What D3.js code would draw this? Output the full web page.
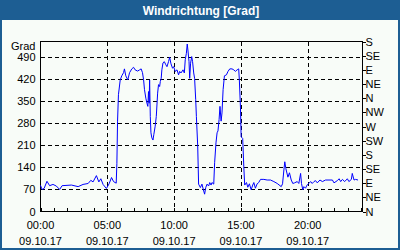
<!DOCTYPE html>
<html>
<head>
<meta charset="utf-8">
<style>
  body { margin: 0; background: #fff; }
  text { font-family: "Liberation Sans", Arial, sans-serif; font-size: 11px; fill: #000; }
  .title { font-weight: bold; font-size: 12px; fill: #fff; }
  .grid line { stroke: #000; stroke-dasharray: 4,3; shape-rendering: crispEdges; }
  .axis path, .axis line { stroke: #000; shape-rendering: crispEdges; }
</style>
</head>
<body>
<svg width="400" height="250"></svg>
<script src="https://cdn.jsdelivr.net/npm/d3@7"></script>
<script>
// wind direction, 09.10.17 (values in degrees, continuous so they can pass 360)
var times = ["00:00","00:07","00:16","00:29","00:41","00:56","01:11","01:26","01:37","02:19",
  "02:49","03:11","03:34","03:46","03:56","04:11","04:22","04:31","04:41","04:56",
  "05:08","05:19","05:28","05:40","05:43","05:46","05:50","05:58","06:05","06:13",
  "06:17","06:23","06:32","06:40","06:50","06:58","07:05","07:16","07:25","07:32",
  "07:38","07:43","07:47","07:53","07:58","08:02","08:05","08:08","08:10","08:13",
  "08:16","08:20","08:25","08:29","08:35","08:40","08:46","08:50","08:55","08:58",
  "09:02","09:05","09:10","09:16","09:23","09:28","09:35","09:40","09:46","09:53",
  "09:58","10:05","10:13","10:20","10:25","10:31","10:40","10:46","10:50","10:55",
  "10:59","11:02","11:07","11:10","11:14","11:19","11:23","11:28","11:32","11:37",
  "11:40","11:46","11:50","11:58","12:05","12:13","12:17","12:22","12:28","12:35",
  "12:40","12:46","12:50","12:58","13:02","13:08","13:13","13:17","13:22","13:26",
  "13:31","13:35","13:40","13:46","13:55","14:02","14:10","14:20","14:28","14:35",
  "14:43","14:50","14:53","14:58","15:01","15:08","15:13","15:17","15:25","15:31",
  "15:38","15:46","15:53","15:58","16:05","16:13","16:20","16:28","16:43","16:58",
  "17:13","17:28","17:43","18:01","18:07","18:13","18:17","18:22","18:31","18:38",
  "18:46","18:53","19:01","19:13","19:20","19:28","19:32","19:38","19:43","19:50",
  "19:58","20:05","20:13","20:20","20:28","20:35","20:43","20:55","21:06","21:20",
  "21:51","21:58","22:13","22:21","22:28","22:36","22:46","22:58","23:05","23:16",
  "23:20","23:28","23:35","23:46"];
var grad = [83,70,73,96,82,86,81,70,82,84,
  79,86,89,99,94,114,94,104,86,73,
  88,108,95,90,153,287,371,418,431,441,
  453,431,418,441,453,458,450,446,450,453,
  441,418,387,360,344,334,381,344,418,302,
  250,234,227,245,271,302,376,403,397,413,
  423,450,472,476,466,460,476,490,469,455,
  460,445,450,434,445,440,450,440,482,502,
  532,513,476,423,471,492,476,440,423,355,
  302,208,87,76,87,65,55,76,87,81,
  92,84,92,87,155,218,250,256,292,334,
  287,313,387,431,434,445,453,453,450,445,
  450,453,418,329,237,232,142,84,92,77,
  88,69,84,92,74,88,92,102,102,100,
  100,95,89,79,88,132,158,136,109,123,
  100,89,91,95,89,121,89,69,79,74,
  85,89,95,89,95,98,91,100,95,100,
  100,91,98,104,95,102,95,104,95,102,
  121,100,102,100];
var day = "2017-10-09";
var yTicks = [0, 70, 140, 210, 280, 350, 420, 490];
var compass = ["N","NE","E","SE","S","SW","W","NW","N","NE","E","SE","S"];
var xLabelHours = [0, 5, 10, 15, 20];

var parse = d3.timeParse("%Y-%m-%d %H:%M");
var data = times.map(function(t, i) { return { t: parse(day + " " + t), v: grad[i] }; });
var t0 = parse(day + " 00:00");

var svg = d3.select("svg");
var L = 40.5, R = 362.5, T = 41.5, B = 211.5;

var x = d3.scaleTime()
  .domain([t0, d3.timeMinute.offset(t0, 24 * 60 + 6)])
  .range([L, R]);
var y = d3.scaleLinear().domain([0, 540]).range([B, T]);

// frame
svg.append("rect").attr("x", 0).attr("y", 0).attr("width", 400).attr("height", 250)
  .attr("fill", "#1d5e93");
svg.append("rect").attr("x", 2).attr("y", 20).attr("width", 396).attr("height", 228)
  .attr("fill", "#f8fcf8");
svg.append("text").attr("class", "title").attr("x", 201).attr("y", 14.5)
  .attr("text-anchor", "middle").text("Windrichtung [Grad]");

// grid
var grid = svg.append("g").attr("class", "grid");
grid.selectAll("line.h").data(yTicks.slice(1)).enter().append("line")
  .attr("class", "h")
  .attr("x1", L).attr("x2", R)
  .attr("y1", function(d) { return Math.round(y(d)) + 0.5; })
  .attr("y2", function(d) { return Math.round(y(d)) + 0.5; });
grid.selectAll("line.v").data(xLabelHours.slice(1)).enter().append("line")
  .attr("class", "v")
  .attr("y1", T).attr("y2", B)
  .attr("x1", function(d) { return Math.round(x(d3.timeHour.offset(t0, d))) + 0.5; })
  .attr("x2", function(d) { return Math.round(x(d3.timeHour.offset(t0, d))) + 0.5; });

// left axis labels
var yl = svg.append("g").attr("class", "axis")
  .attr("transform", "translate(" + L + ",0)")
  .call(d3.axisLeft(y).tickValues(yTicks).tickSize(0).tickPadding(5));
yl.select(".domain").remove();
svg.append("text").attr("x", 35.5).attr("y", 50).attr("text-anchor", "end").text("Grad");

// right compass axis
svg.append("g").attr("class", "axis")
  .attr("transform", "translate(" + R + ",0)")
  .call(d3.axisRight(y).tickValues(d3.range(0, 541, 45)).tickSize(3).tickPadding(0)
    .tickFormat(function(d, i) { return compass[i]; }))
  .select(".domain").remove();

// bottom hour ticks (inside)
var xb = svg.append("g").attr("class", "axis")
  .attr("transform", "translate(0," + B + ")")
  .call(d3.axisBottom(x).ticks(d3.timeHour.every(1)).tickSize(-4).tickFormat(""));
xb.select(".domain").remove();

// bottom labels
var fmt = d3.timeFormat("%H:%M"), fmtD = d3.timeFormat("%d.%m.%y");
var xl = svg.append("g").selectAll("text").data(xLabelHours).enter().append("text")
  .attr("text-anchor", "middle")
  .attr("transform", function(d) { return "translate(" + x(d3.timeHour.offset(t0, d)) + ",0)"; });
xl.append("tspan").attr("x", 0).attr("y", 229).text(function(d) { return fmt(d3.timeHour.offset(t0, d)); });
xl.append("tspan").attr("x", 0).attr("y", 245).text(function(d) { return fmtD(d3.timeHour.offset(t0, d)); });

// plot box
svg.append("rect").attr("x", L).attr("y", T).attr("width", R - L).attr("height", B - T)
  .attr("fill", "none").attr("stroke", "#000").attr("shape-rendering", "crispEdges");

// series
svg.append("path").datum(data)
  .attr("fill", "none").attr("stroke", "#0000ff").attr("stroke-width", 1)
  .attr("d", d3.line().x(function(d) { return x(d.t); }).y(function(d) { return y(d.v); }));
</script>
</body>
</html>
